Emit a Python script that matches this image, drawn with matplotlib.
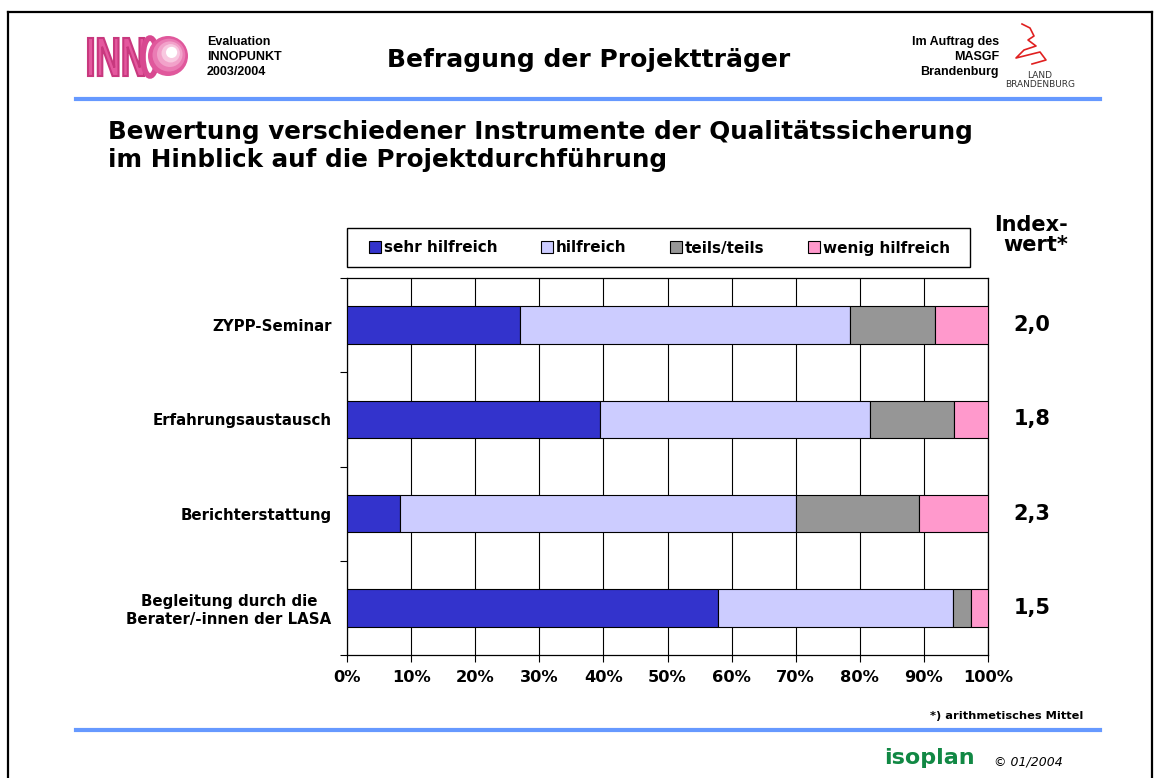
import numpy as np
import matplotlib
matplotlib.use("Agg")
import matplotlib.pyplot as plt
from matplotlib.patches import Ellipse, Rectangle, PathPatch
from matplotlib.lines import Line2D
from matplotlib.textpath import TextPath
from matplotlib.font_manager import FontProperties
import matplotlib.transforms as mtrans

# data
categories = ["ZYPP-Seminar", "Erfahrungsaustausch", "Berichterstattung",
              "Begleitung durch die\nBerater/-innen der LASA"]
sehr_hilfreich = [27.0, 39.5, 8.2, 57.9]
hilfreich = [51.4, 42.1, 61.9, 36.7]
teils_teils = [13.4, 13.1, 19.1, 2.7]
wenig_hilfreich = [8.2, 5.3, 10.8, 2.7]
index_wert = ["2,0", "1,8", "2,3", "1,5"]
x_ticks = np.arange(0, 101, 10)
x_labels = [f"{t}%" for t in x_ticks]

series = [("sehr hilfreich", sehr_hilfreich, "#3333CC"),
          ("hilfreich", hilfreich, "#CCCCFF"),
          ("teils/teils", teils_teils, "#969696"),
          ("wenig hilfreich", wenig_hilfreich, "#FF99CC")]

W, H = 1158, 778
plt.rcParams['font.family'] = ['DejaVu Sans']


def box(x0, y0, x1, y1):
    return [x0 / W, 1 - y1 / H, (x1 - x0) / W, (y1 - y0) / H]


def fx(x):
    return x / W


def fy(y):
    return 1 - y / H


fig = plt.figure(figsize=(W / 100, H / 100), dpi=100)
fig.patch.set_facecolor("white")

# page frame
fig.add_artist(Line2D([fx(8), fx(1152)], [fy(12), fy(12)], color="black", lw=1.6))
fig.add_artist(Line2D([fx(8), fx(8)], [fy(12), fy(780)], color="black", lw=1.6))
fig.add_artist(Line2D([fx(1152), fx(1152)], [fy(12), fy(780)], color="black", lw=1.6))

# blue rules
fig.add_artist(Line2D([fx(76), fx(1100)], [fy(99), fy(99)], color="#6699FF", lw=3))
fig.add_artist(Line2D([fx(76), fx(1100)], [fy(730), fy(730)], color="#6699FF", lw=3))

# header texts
hdr = ['Liberation Sans', 'DejaVu Sans']
fig.text(fx(207), fy(57), "Evaluation\nINNOPUNKT\n2003/2004", fontsize=9, family=hdr,
         fontweight="bold", ha="left", va="center", linespacing=1.3)
fig.text(fx(589), fy(60), "Befragung der Projektträger", fontsize=18,
         fontweight="bold", ha="center", va="center")
fig.text(fx(999), fy(57), "Im Auftrag des\nMASGF\nBrandenburg", fontsize=9, family=hdr,
         fontweight="bold", ha="right", va="center", linespacing=1.3, multialignment="right")

# INNO logo (simplified): narrow pink letters + sphere
tp = TextPath((0, 0), "INN", size=40, prop=FontProperties(family="Liberation Sans", weight="bold"))
ext = tp.get_extents()
sx = 56 / ext.width
sy = 38 / ext.height
tr = mtrans.Affine2D().translate(-ext.x0, -ext.y0).scale(sx, sy).translate(88, H - 76)
fig.add_artist(PathPatch(tp, transform=tr + mtrans.IdentityTransform(),
                         facecolor="#E4589E", edgecolor="#C8387E", lw=1.5))
fig.add_artist(Ellipse((fx(150), fy(57)), 14 / W, 38 / H, transform=fig.transFigure,
                       facecolor="none", edgecolor="#D84890", lw=4))
for i, col in enumerate(["#E0589C", "#EA7CB4", "#F2A2CA", "#F8C8E0", "#FFFFFF"]):
    r = 20 - i * 3.6
    fig.add_artist(Ellipse((fx(168 + i * 0.9), fy(56 - i * 0.9)), 2 * r / W, 2 * r / H,
                           transform=fig.transFigure, facecolor=col, edgecolor="none"))

# Land Brandenburg logo (simplified eagle)
ex = [1022, 1030, 1034, 1028, 1036, 1024, 1016, 1024, 1040, 1046, 1032]
ey = [24, 28, 36, 40, 46, 50, 58, 56, 52, 60, 64]
fig.add_artist(Line2D([fx(v) for v in ex], [fy(v) for v in ey], color="#E02020", lw=1.2))
fig.text(fx(1040), fy(80), "LAND\nBRANDENBURG", fontsize=6.5, ha="center", va="center",
         color="#333333", linespacing=1.1)

# title
fig.text(fx(108), fy(146), "Bewertung verschiedener Instrumente der Qualitätssicherung\n"
         "im Hinblick auf die Projektdurchführung", fontsize=17.7, fontweight="bold",
         ha="left", va="center", linespacing=1.25)

# chart
ax = fig.add_axes(box(347, 278, 988, 655))
ypos = np.arange(len(categories))
left = np.zeros(len(categories))
handles = []
for name, vals, col in series:
    b = ax.barh(ypos, vals, left=left, height=0.4, color=col, edgecolor="black",
                linewidth=0.8, label=name, zorder=3)
    handles.append(b)
    left += np.array(vals)

ax.set_xlim(0, 100)
ax.set_ylim(3.5, -0.5)
ax.set_xticks(x_ticks)
ax.set_xticklabels(x_labels, fontsize=11.7, fontweight="bold")
ax.tick_params(axis="x", length=5, width=0.8, pad=6, direction="out")
ax.set_yticks(ypos)
ax.set_yticklabels(categories, fontsize=10.8, fontweight="bold", multialignment="center")
ax.tick_params(axis="y", which="major", length=0, pad=11)
ax.set_yticks(np.arange(-0.5, 3.6, 1.0), minor=True)
ax.tick_params(axis="y", which="minor", length=5, width=0.8, direction="out")
ax.grid(axis="x", color="black", lw=0.8, zorder=0)
for s in ax.spines.values():
    s.set_color("black")
    s.set_linewidth(0.9)

# index values
trans = mtrans.blended_transform_factory(fig.transFigure, ax.transData)
for y, v in zip(ypos, index_wert):
    ax.text(fx(1032), y, v, transform=trans, fontsize=15, fontweight="bold",
            ha="center", va="center")
fig.text(fx(1068), fy(235), "Index-\nwert*", fontsize=15, fontweight="bold",
         ha="right", va="center", multialignment="right", linespacing=0.95)

# legend: frame drawn separately, entries spread across it
fig.add_artist(Rectangle((fx(347), fy(267)), fx(970) - fx(347), fy(228) - fy(267),
                         transform=fig.transFigure, facecolor="white", edgecolor="black", lw=1))
fig.legend(handles=handles, loc="center left", ncol=4, mode="expand",
           bbox_to_anchor=(fx(369), fy(248), fx(950) - fx(369), 0),
           frameon=False, prop={"weight": "bold", "size": 11},
           handlelength=0.8, handleheight=0.8, handletextpad=0.2, borderpad=0,
           borderaxespad=0)

# footer
fig.text(fx(1083), fy(716), "*) arithmetisches Mittel", fontsize=8.2, fontweight="bold",
         ha="right", va="center")
fig.text(fx(884), fy(758), "isoplan", fontsize=16, fontweight="bold", color="#118844",
         ha="left", va="center")
fig.text(fx(994), fy(762), "© 01/2004", fontsize=9, style="italic", ha="left", va="center")

fig.savefig("out.png", dpi=100)
